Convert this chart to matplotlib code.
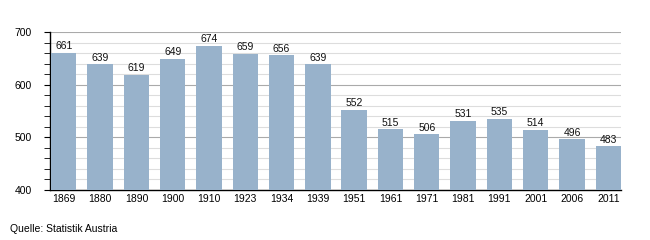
import matplotlib
matplotlib.use("Agg")
import matplotlib.pyplot as plt
import numpy as np

years = ["1869", "1880", "1890", "1900", "1910", "1923", "1934", "1939",
         "1951", "1961", "1971", "1981", "1991", "2001", "2006", "2011"]
values = [661, 639, 619, 649, 674, 659, 656, 639, 552, 515, 506, 531, 535, 514, 496, 483]

plt.rcParams['font.family'] = ['Liberation Sans', 'DejaVu Sans']

fig = plt.figure(figsize=(6.5, 2.4), dpi=100)
ax = fig.add_axes([50/650, 1-190/240, 571/650, 158/240])

x = np.arange(len(years))
ax.bar(x, values, width=0.70, color='#98b2cb', zorder=3)
for xi, v in zip(x, values):
    ax.text(xi, v + 3, str(v), ha='center', va='bottom', fontsize=7.5, color='#111111', zorder=4)

ax.set_ylim(400, 700)
ax.set_xlim(-0.38, len(years) - 1 + 0.35)
ax.set_xticks(x)
ax.set_xticklabels(years, fontsize=7.5)
ax.set_yticks([400, 500, 600, 700])
ax.set_yticks(np.arange(400, 701, 20), minor=True)
ax.tick_params(axis='y', which='major', labelsize=7.5, length=4, pad=9)
ax.tick_params(axis='y', which='minor', length=4)
ax.tick_params(axis='x', length=0, pad=3)

ax.grid(axis='y', which='major', color='#aaaaaa', lw=0.8, zorder=1)
ax.grid(axis='y', which='minor', color='#dddddd', lw=0.8, zorder=0)

for s in ['top', 'right']:
    ax.spines[s].set_visible(False)
ax.spines['left'].set_color('black')
ax.spines['bottom'].set_color('black')
ax.spines['left'].set_linewidth(1)
ax.spines['bottom'].set_linewidth(1)

fig.text(10/650, 1-229/240, "Quelle: Statistik Austria", fontsize=7.5, va='center', ha='left')

fig.savefig("out.png", dpi=100)
